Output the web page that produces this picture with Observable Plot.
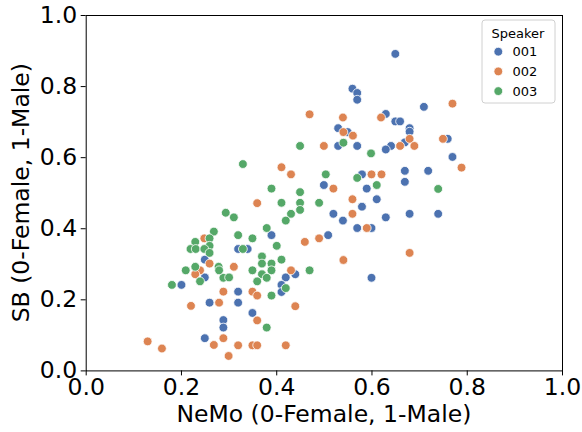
<!DOCTYPE html>
<html><head><meta charset="utf-8">
<script src="https://cdn.jsdelivr.net/npm/d3@7"></script>
<script src="https://cdn.jsdelivr.net/npm/@observablehq/plot@0.6"></script>
<style>body{margin:0;background:#fff;} #chart{width:582px;height:432px;}</style>
</head><body><div id="chart"></div>
<script>
const speakers = ["001", "002", "003"];
const palette = ["#4C72B0", "#DD8452", "#55A868"];
const xTicks = [0, 0.2, 0.4, 0.6, 0.8, 1.0];
const yTicks = [0, 0.2, 0.4, 0.6, 0.8, 1.0];
const xLabel = "NeMo (0-Female, 1-Male)";
const yLabel = "SB (0-Female, 1-Male)";
const legendTitle = "Speaker";

// Speaker 001
const nemo001 = [0.649,0.559,0.569,0.569,0.709,0.629,0.649,0.659,0.679,0.679,0.529,0.549,0.669,0.640,0.629,0.529,0.569,0.759,0.769,0.579,0.669,0.669,0.718,0.589,0.499,0.610,0.579,0.519,0.539,0.629,0.679,0.739,0.569,0.599,0.508,0.389,0.319,0.339,0.439,0.419,0.410,0.410,0.599,0.319,0.319,0.349,0.249,0.249,0.200,0.259,0.288,0.288,0.249];
const sb001   = [0.892,0.794,0.782,0.763,0.743,0.723,0.702,0.702,0.683,0.673,0.683,0.672,0.643,0.633,0.623,0.633,0.633,0.653,0.602,0.553,0.563,0.532,0.563,0.513,0.523,0.483,0.462,0.442,0.423,0.432,0.442,0.442,0.402,0.402,0.382,0.382,0.343,0.343,0.272,0.263,0.242,0.222,0.262,0.223,0.192,0.163,0.313,0.263,0.242,0.192,0.143,0.122,0.092];
// Speaker 002
const nemo002 = [0.469,0.499,0.410,0.430,0.359,0.539,0.619,0.540,0.560,0.679,0.659,0.689,0.769,0.749,0.788,0.599,0.620,0.519,0.559,0.559,0.589,0.489,0.459,0.679,0.540,0.430,0.439,0.419,0.349,0.359,0.359,0.319,0.349,0.359,0.310,0.248,0.259,0.239,0.229,0.288,0.279,0.220,0.288,0.268,0.129,0.159,0.299];
const sb002   = [0.722,0.633,0.573,0.553,0.472,0.713,0.713,0.672,0.662,0.653,0.633,0.633,0.752,0.653,0.572,0.553,0.553,0.513,0.483,0.442,0.402,0.373,0.363,0.332,0.312,0.283,0.182,0.072,0.223,0.212,0.142,0.072,0.072,0.072,0.293,0.373,0.302,0.283,0.272,0.223,0.192,0.183,0.092,0.073,0.083,0.063,0.042];
// Speaker 003
const nemo003 = [0.598,0.540,0.569,0.610,0.503,0.449,0.329,0.389,0.449,0.410,0.449,0.489,0.449,0.430,0.419,0.379,0.310,0.293,0.319,0.349,0.329,0.400,0.369,0.410,0.369,0.389,0.349,0.389,0.469,0.369,0.379,0.359,0.419,0.389,0.379,0.288,0.300,0.268,0.259,0.229,0.259,0.219,0.230,0.248,0.259,0.278,0.279,0.209,0.229,0.239,0.180,0.739];
const sb003   = [0.612,0.642,0.543,0.523,0.553,0.633,0.582,0.513,0.503,0.473,0.473,0.473,0.453,0.442,0.423,0.402,0.432,0.445,0.382,0.373,0.343,0.352,0.322,0.313,0.302,0.302,0.283,0.283,0.283,0.272,0.262,0.252,0.233,0.212,0.122,0.262,0.263,0.392,0.373,0.363,0.352,0.343,0.343,0.343,0.332,0.293,0.283,0.283,0.293,0.252,0.242,0.512];

const series = [[nemo001, sb001], [nemo002, sb002], [nemo003, sb003]];
const rows = [];
series.forEach(([xs, ys], i) => xs.forEach((x, j) => rows.push({speaker: speakers[i], nemo: x, sb: ys[j]})));

const FONT = "'DejaVu Sans', sans-serif";
const fmt = d => d.toFixed(1);

const chart = Plot.plot({
  width: 582, height: 432,
  marginLeft: 85.7, marginRight: 20, marginTop: 15, marginBottom: 61.6,
  style: {fontFamily: FONT, background: "white", color: "black", overflow: "visible"},
  x: {domain: [0, 1]},
  y: {domain: [0, 1]},
  color: {domain: speakers, range: palette},
  marks: [
    Plot.axisX({ticks: xTicks, tickFormat: fmt, tickSize: 5, tickPadding: 2, fontSize: 23.5, label: null, stroke: "black", fill: "black"}),
    Plot.axisY({ticks: yTicks, tickFormat: fmt, tickSize: 5, tickPadding: 4, fontSize: 23.5, label: null, stroke: "black", fill: "black"}),
    Plot.dot(rows, {x: "nemo", y: "sb", fill: "speaker", r: 4.4, stroke: "white", strokeWidth: 0.8}),
    Plot.frame({stroke: "black", strokeWidth: 1})
  ]
});
document.getElementById("chart").appendChild(chart);

const svg = d3.select(chart);
const L = 85.7, R = 562, T = 15, B = 370.4;
svg.append("text").attr("x", (L + R) / 2).attr("y", 422).attr("text-anchor", "middle")
  .attr("font-size", 23.5).attr("font-family", FONT).attr("fill", "black").text(xLabel);
svg.append("text").attr("transform", `translate(29,${(T + B) / 2}) rotate(-90)`).attr("text-anchor", "middle")
  .attr("font-size", 23.5).attr("font-family", FONT).attr("fill", "black").text(yLabel);

const lg = svg.append("g");
lg.append("rect").attr("x", 482).attr("y", 20).attr("width", 73).attr("height", 83).attr("rx", 3)
  .attr("fill", "white").attr("fill-opacity", 0.8).attr("stroke", "#d0d0d0").attr("stroke-width", 1);
lg.append("text").attr("x", 518).attr("y", 37.5).attr("text-anchor", "middle")
  .attr("font-size", 13).attr("font-family", FONT).attr("fill", "black").text(legendTitle);
speakers.forEach((s, i) => {
  const cy = 51.7 + i * 19.7;
  lg.append("circle").attr("cx", 498.3).attr("cy", cy).attr("r", 4.4).attr("fill", palette[i]).attr("stroke", "white").attr("stroke-width", 0.8);
  lg.append("text").attr("x", 525).attr("y", cy + 4.7).attr("font-size", 13).attr("font-family", FONT).attr("fill", "black").text(s);
});
</script>
</body></html>
